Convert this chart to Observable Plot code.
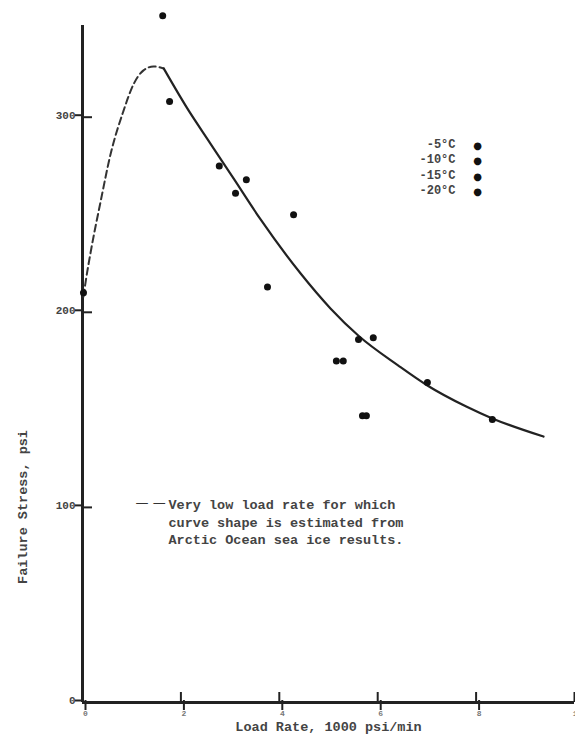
<!DOCTYPE html>
<html><head><meta charset="utf-8">
<script src="https://cdn.jsdelivr.net/npm/d3@7"></script>
<script src="https://cdn.jsdelivr.net/npm/@observablehq/plot@0.6"></script>
<style>body{margin:0;background:#fff}</style>
</head><body><div id="chart"></div>
<script>
// Observed failure points (load rate in 1000 psi/min, failure stress in psi)
const pointX = [0.02, 1.63, 1.77, 2.78, 3.33, 3.11, 4.29, 3.76, 5.61, 5.91, 5.16, 5.30, 5.69, 5.77, 7.01, 8.33];
const pointY = [210, 352, 308, 275, 268, 261, 250, 213, 186, 187, 175, 175, 147, 147, 164, 145];
// Estimated (dashed) low-rate part of the curve
const dashedX = [0.02, 0.06, 0.16, 0.37, 0.57, 0.83, 1.04, 1.24, 1.44, 1.65];
const dashedY = [208, 215, 230, 257, 281, 303, 317, 324, 326, 325];
// Fitted (solid) part of the curve
const solidX = [1.65, 2.13, 2.60, 3.07, 3.62, 4.43, 5.04, 5.61, 6.42, 7.01, 7.80, 8.33, 9.37];
const solidY = [325, 304.5, 286.5, 268.6, 247.6, 220, 202, 188, 172.7, 162.5, 151.7, 145.6, 136.3];
const xTicks = [0, 2, 4, 6, 8, 10];
const yTicks = [0, 100, 200, 300];
const legendLabels = ["-5°C", "-10°C", "-15°C", "-20°C"];
const noteLines = ["Very low load rate for which", "curve shape is estimated from", "Arctic Ocean sea ice results."];
const xLabel = "Load Rate, 1000 psi/min";
const yLabel = "Failure Stress, psi";

const points = pointX.map((x, i) => ({x, y: pointY[i]}));
const dashed = dashedX.map((x, i) => ({x, y: dashedY[i]}));
const solid = solidX.map((x, i) => ({x, y: solidY[i]}));

const ink = "#222";
const chart = Plot.plot({
  width: 575,
  height: 736,
  marginLeft: 82,
  marginRight: 1,
  marginTop: 25,
  marginBottom: 34,
  style: {fontFamily: "Liberation Mono", fontSize: "12px", background: "white", color: ink},
  x: {domain: [0, 10]},
  y: {domain: [0, 347]},
  marks: [
    Plot.axisY({ticks: yTicks, tickSize: 7, tickPadding: 0, label: null, fontSize: 11, fontWeight: "bold", strokeWidth: 2, stroke: ink, fill: "#444", dy: -2}),
    Plot.axisY({ticks: yTicks, tickSize: -10, tickFormat: () => "", label: null, strokeWidth: 2, stroke: ink}),
    Plot.axisX({ticks: xTicks, tickSize: 10, tickPadding: 0, label: null, fontSize: 8, fontWeight: "bold", fill: "#777", strokeWidth: 2, stroke: ink, dx: 3, dy: -2}),
    Plot.axisX({ticks: xTicks, tickSize: -10, tickFormat: () => "", label: null, strokeWidth: 2, stroke: ink}),
    Plot.ruleX([0], {stroke: ink, strokeWidth: 3}),
    Plot.ruleY([0], {stroke: ink, strokeWidth: 3}),
    Plot.line(dashed, {x: "x", y: "y", curve: "monotone-x", stroke: "#333", strokeWidth: 2, strokeDasharray: "7,4"}),
    Plot.line(solid, {x: "x", y: "y", curve: "monotone-x", stroke: ink, strokeWidth: 2.2}),
    Plot.dot(points, {x: "x", y: "y", r: 3.5, fill: "#111", stroke: null}),
    // legend
    Plot.text([legendLabels.join("\n")], {frameAnchor: "top-right", dx: -119, dy: 111, textAnchor: "end", lineAnchor: "top", lineHeight: 1.3, fontSize: 12, fontWeight: "bold", fill: "#444"}),
    Plot.text([legendLabels.map(() => "●").join("\n")], {frameAnchor: "top-right", dx: -97, dy: 112, textAnchor: "middle", lineAnchor: "top", lineHeight: 1.56, fontSize: 10, fontFamily: "DejaVu Sans", fill: "#111"}),
    // annotation
    Plot.text(["— —"], {frameAnchor: "top-left", dx: 53, dy: 472, textAnchor: "start", lineAnchor: "top", fontSize: 13, fontFamily: "DejaVu Sans", fill: "#333"}),
    Plot.text([noteLines.join("\n")], {frameAnchor: "top-left", dx: 86, dy: 471, textAnchor: "start", lineAnchor: "top", lineHeight: 1.31, fontSize: 13.5, fontWeight: "bold", fill: "#444"}),
    // axis titles
    Plot.text([xLabel], {frameAnchor: "bottom", dy: 28, textAnchor: "middle", fontSize: 13.5, fontWeight: "bold", fill: "#444"}),
    Plot.text([yLabel], {frameAnchor: "left", dx: -60, dy: 143, textAnchor: "middle", rotate: -90, fontSize: 13.5, fontWeight: "bold", fill: "#444"})
  ]
});
document.getElementById("chart").appendChild(chart);
</script>
</body></html>
